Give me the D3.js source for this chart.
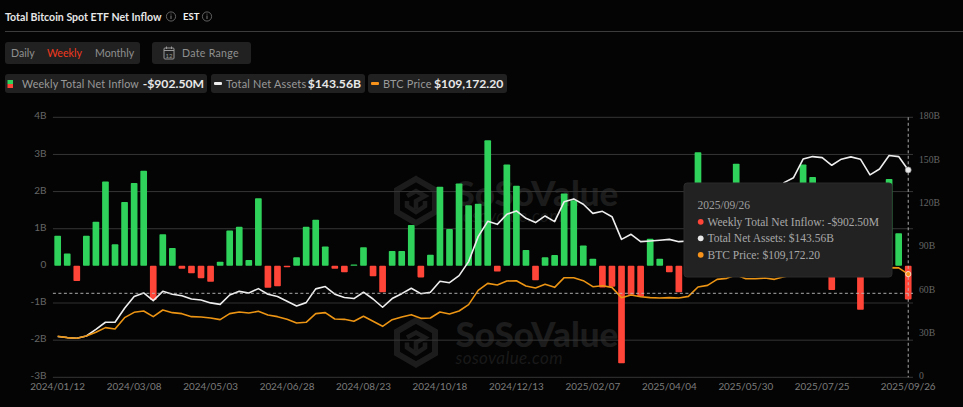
<!DOCTYPE html>
<html>
<head>
<meta charset="utf-8">
<script src="https://cdn.jsdelivr.net/npm/d3@7"></script>
<style>
  html, body { margin: 0; padding: 0; background: #040404; overflow: hidden; }
  text { font-family: Lato, "Noto Sans", sans-serif; }
</style>
</head>
<body>
<svg id="chart" width="963" height="407"></svg>
<script>
// weekly data. everything behind the tooltip is an estimate
const tickLabels = ["2024/01/12","2024/03/08","2024/05/03","2024/06/28","2024/08/23","2024/10/18",
  "2024/12/13","2025/02/07","2025/04/04","2025/05/30","2025/07/25","2025/09/26"]
const inflowTicks = [-3,-2,-1,0,1,2,3,4]
const assetTicks = [0,30,60,90,120,150,180]

// billions of usd
const inflow = [
  0.81,0.33,-0.41,0.81,1.19,2.27,0.58,1.72,2.23,2.56,
  -0.92,0.85,0.48,-0.08,-0.2,-0.33,-0.43,0.11,0.95,1.05,
  0.16,1.82,-0.59,-0.55,-0.04,0.23,1.05,1.24,0.52,-0.08,
  -0.17,0.04,0.5,-0.28,-0.71,0.4,0.4,1.1,-0.31,0.3,
  2.13,0.99,2.22,1.63,1.67,3.38,-0.15,2.73,2.16,0.43,
  -0.39,0.23,0.29,1.95,1.77,0.55,0.19,-0.58,-0.56,-2.62,
  -0.78,-0.83,0.73,0.19,-0.17,-0.71,0.02,3.06,1.81,0.92,
  0.61,2.75,0.13,-0.13,1.37,1.02,2.22,0.77,2.73,2.39,
  0.07,-0.65,0.25,0.55,-1.18,0.44,0.25,2.34,0.88,-0.9025]

// billions of usd
const netAssets = [
  28.2,27.5,27.0,28.6,33.2,38.1,38.1,47.8,55.9,58.4,
  53.1,59.5,57.5,56.5,54.2,53.5,51.5,50.5,57.0,59.5,
  58.4,61.4,57.5,55.9,52.6,49.4,51.7,61.2,62.8,57.5,
  55.2,54.5,58.9,54.2,48.5,54.5,57.9,61.6,57.9,58.9,
  66.5,65.5,70.4,80.1,97.4,108,105.9,112.9,115.2,110.1,
  107.1,111.7,107.8,121.6,123.5,119.8,113.5,114.9,111.2,95.5,
  99,93.9,94.4,94.9,95.5,93.9,94.4,107,109,115,
  120,123,120,121,124,123,134.8,138.2,151.1,152.8,
  152.1,146.8,151,152.6,151,140.1,144.2,153.5,152.8,143.56]

// usd
const btcPrice = [
  43345,41936,41231,43700,47574,52508,51098,63080,68718,70128,
  64137,71185,68366,67308,64137,63784,62727,60965,67308,69070,
  68013,69775,65900,64137,61318,57441,58146,67308,68366,61670,
  61318,59203,64489,59203,53917,60965,63784,66251,62375,62727,
  69070,66956,70128,76823,91976,99377,97615,101844,102196,96558,
  94443,98320,95148,105368,105368,102196,95853,96910,95148,84224,
  87043,85281,84224,83871,84224,83871,85633,95500,97262,103606,
  104663,108187,104310,104310,105015,103606,106425,108187,117000,118000,
  117600,113000,117000,117400,116000,108200,110000,116000,115700,109172.2]

const weekFormat = d3.utcFormat("%Y/%m/%d")
const weeks = d3.utcDay.range(Date.UTC(2024,0,12), Date.UTC(2025,8,27), 7).map(d => weekFormat(d))

const chartLeft = 52.9, chartRight = 913, chartTop = 117.3, chartBottom = 377.3

const svg = d3.select("#chart")

const x = d3.scaleBand().domain(weeks).range([chartLeft, chartRight]).paddingInner(0.3).paddingOuter(0.15)
const yInflow = d3.scaleLinear().domain([-3,4]).range([chartBottom, chartTop])
const yAssets = d3.scaleLinear().domain([0,180]).range([chartBottom, chartTop])
const yPrice = d3.scaleLinear().domain([0,275000]).range([chartBottom, chartTop])
const xMid = d => x(d) + x.bandwidth()/2

//-------------header
svg.append("text").attr("x",5).attr("y",20.5).attr("fill","#e6e6e6")
  .attr("font-size",10.6).attr("font-weight",700).text("Total Bitcoin Spot ETF Net Inflow")

function infoIcon(cx){
  svg.append("circle").attr("cx",cx).attr("cy",16.5).attr("r",4.6)
    .attr("fill","none").attr("stroke","#777").attr("stroke-width",0.8)
  svg.append("line").attr("x1",cx).attr("x2",cx).attr("y1",15.5).attr("y2",19)
    .attr("stroke","#888").attr("stroke-width",0.9)
  svg.append("circle").attr("cx",cx).attr("cy",14).attr("r",0.5).attr("fill","#888")
}
infoIcon(171)
svg.append("text").attr("x",183).attr("y",19.5).attr("fill","#f2f2f2")
  .attr("font-size",9.5).attr("font-weight",700).text("EST")
infoIcon(207)

svg.append("line").attr("x1",5).attr("x2",963).attr("y1",31.5).attr("y2",31.5).attr("stroke","#3c3c3c")

//-------------buttons
const chip = (x0,y0,w,h) => svg.append("rect").attr("x",x0).attr("y",y0).attr("width",w).attr("height",h)
  .attr("rx",3).attr("fill","#212121")
chip(5,42,135,22)
chip(152,42,99,22)

let buttons = [["Daily",11,"#8f8f8f"],["Weekly",47,"#f0391f"],["Monthly",95,"#8f8f8f"]]
for (let b of buttons){
  svg.append("text").attr("x",b[1]).attr("y",57).attr("fill",b[2]).attr("font-size",10.6).text(b[0])
}

// calendar icon
svg.append("rect").attr("x",164).attr("y",48).attr("width",10).attr("height",11).attr("rx",1)
  .attr("fill","none").attr("stroke","#999").attr("stroke-width",1)
svg.append("line").attr("x1",164).attr("x2",174).attr("y1",50.5).attr("y2",50.5).attr("stroke","#999")
for (let cx of [166.5,171.5]){
  svg.append("line").attr("x1",cx).attr("x2",cx).attr("y1",46.5).attr("y2",49).attr("stroke","#999")
}
svg.append("text").attr("x",169).attr("y",57.7).attr("text-anchor","middle").attr("fill","#999")
  .attr("font-size",6).text("12")
svg.append("text").attr("x",182).attr("y",57).attr("fill","#8f8f8f").attr("font-size",10.6)
  .attr("letter-spacing",0.3).text("Date Range")

//-------------legend
chip(5,74,202,19)
chip(211,74,154,19)
chip(368,74,139,19)

svg.append("rect").attr("x",7.5).attr("y",80).attr("width",5.5).attr("height",4).attr("fill","#2fd25a")
svg.append("rect").attr("x",7.5).attr("y",84).attr("width",5.5).attr("height",4).attr("fill","#ff4438")
svg.append("rect").attr("x",214).attr("y",82).attr("width",8).attr("height",3).attr("rx",1).attr("fill","#eeeeee")
svg.append("rect").attr("x",371).attr("y",82).attr("width",8).attr("height",3).attr("rx",1).attr("fill","#f7931a")

let legendItems = [
  ["Weekly Total Net Inflow",22,10.7,"-$902.50M",142.7],
  ["Total Net Assets",226,10.9,"$143.56B",307.7],
  ["BTC Price",383,10.9,"$109,172.20",434]
]
for (let item of legendItems){
  svg.append("text").attr("x",item[1]).attr("y",87.5).attr("fill","#9a9a9a").attr("font-size",item[2])
    .attr("letter-spacing",0.2).text(item[0])
  svg.append("text").attr("x",item[4]).attr("y",88).attr("fill","#e8e8e8").attr("font-size",12.2)
    .attr("font-weight",700).text(item[3])
}

//-------------watermark + grid
function watermark(cx,cy){
  const g = svg.append("g").attr("transform","translate("+cx+","+cy+")")
  g.append("path").attr("d","M0,-22 L19,-11 L19,11 L0,22 L-19,11 L-19,-11 Z")
    .attr("fill","none").attr("stroke","#1c1c1c").attr("stroke-width",6)
  g.append("path").attr("d","M-9,-5 L0,-10 L9,-5 L0,0 L0,8 M9,0 L9,5 L0,11 L-9,5 L-9,0")
    .attr("fill","none").attr("stroke","#1c1c1c").attr("stroke-width",4.5)
  g.append("text").attr("x",39.5).attr("y",4.5).attr("fill","#1c1c1c").attr("font-size",35)
    .attr("font-weight",900).text("SoSoValue")
  g.append("text").attr("x",39.5).attr("y",21).attr("fill","#191919").attr("font-size",17)
    .attr("font-style","italic").attr("letter-spacing",0.4).text("sosovalue.com")
}
watermark(416,201)
watermark(416,342.5)

svg.append("g").selectAll("line").data(inflowTicks).join("line")
  .attr("x1",chartLeft).attr("x2",chartRight)
  .attr("y1",d => yInflow(d)).attr("y2",d => yInflow(d))
  .attr("stroke",d => d==0 ? "none" : (d==-1 ? "#222" : "#363636")).attr("stroke-width",d => d==-1 ? 1.5 : 1)

//-------------bars
svg.append("g").selectAll("rect").data(weeks).join("rect")
  .attr("x",d => x(d))
  .attr("y",(d,i) => yInflow(Math.max(inflow[i],0)))
  .attr("width",x.bandwidth())
  .attr("height",(d,i) => Math.abs(yInflow(inflow[i]) - yInflow(0)))
  .attr("rx",0.8)
  .attr("fill",(d,i) => inflow[i] >= 0 ? "#2fd25a" : "#ff4438")

//-------------lines
const assetLine = d3.line().x((d,i) => xMid(weeks[i])).y(d => yAssets(d))
const priceLine = d3.line().x((d,i) => xMid(weeks[i])).y(d => yPrice(d))
svg.append("path").datum(netAssets).attr("d",assetLine).attr("fill","none")
  .attr("stroke","#eeeeee").attr("stroke-width",1.6).attr("stroke-linejoin","round")
svg.append("path").datum(btcPrice).attr("d",priceLine).attr("fill","none")
  .attr("stroke","#ec9413").attr("stroke-width",1.6).attr("stroke-linejoin","round")

//-------------axes
const leftAxis = d3.axisLeft(yInflow).tickValues(inflowTicks).tickSize(0).tickPadding(6.5)
  .tickFormat(d => d==0 ? "0" : d+"B")
const rightAxis = d3.axisRight(yAssets).tickValues(assetTicks).tickSize(0).tickPadding(6)
  .tickFormat(d => d==0 ? "0" : d+"B")
const bottomAxis = d3.axisBottom(x).tickValues(tickLabels).tickSize(0).tickPadding(5.5)

const styleAxis = (g,color,size,font) => {
  g.select(".domain").remove()
  g.selectAll("text").attr("fill",color).style("font-size",size+"px").style("font-family",font)
}
svg.append("g").attr("transform","translate("+chartLeft+",-1.6)").call(leftAxis)
  .call(styleAxis,"#666666",10,"Lato, sans-serif")
svg.append("g").attr("transform","translate("+chartRight+",-1.6)").call(rightAxis)
  .call(styleAxis,"#666666",9.7,"'Liberation Serif', serif")
svg.append("g").attr("transform","translate(0,"+chartBottom+")").call(bottomAxis)
  .call(styleAxis,"#7c7c7c",9.9,"Lato, sans-serif")

//-------------crosshair on the last week
const lastWeek = weeks[weeks.length-1]
const crossY = 293.3
svg.append("line").attr("x1",chartLeft).attr("x2",chartRight).attr("y1",crossY).attr("y2",crossY)
  .attr("stroke","#bdbdbd").attr("stroke-dasharray","3,2.5").attr("stroke-width",0.9)
svg.append("line").attr("x1",xMid(lastWeek)).attr("x2",xMid(lastWeek)).attr("y1",chartTop).attr("y2",chartBottom)
  .attr("stroke","#bdbdbd").attr("stroke-dasharray","3,2.5").attr("stroke-width",0.9)

svg.append("circle").attr("cx",xMid(lastWeek)).attr("cy",yAssets(netAssets[89])).attr("r",3)
  .attr("fill","#e8e8e8").attr("stroke","#888").attr("stroke-width",0.6)
svg.append("circle").attr("cx",xMid(lastWeek)).attr("cy",yPrice(btcPrice[89])).attr("r",2.6)
  .attr("fill","#f7931a").attr("stroke","#fff").attr("stroke-width",0.7)

//-------------tooltip
const tip = svg.append("g")
tip.append("rect").attr("x",684).attr("y",183).attr("width",208).attr("height",94).attr("rx",3)
  .attr("fill","#222222").attr("stroke","#2a2a2a")

tip.append("text").attr("x",697.5).attr("y",209).attr("fill","#9e9e9e")
  .style("font-family","'Liberation Serif', serif").attr("font-size",11.5).text(lastWeek)

let tipRows = [
  ["#ff4438","Weekly Total Net Inflow: -$902.50M"],
  ["#e8e8e8","Total Net Assets: $143.56B"],
  ["#f7931a","BTC Price: $109,172.20"]
]
tipRows.forEach((row,i) => {
  const rowY = 221.8 + i*16.5
  tip.append("circle").attr("cx",700.7).attr("cy",rowY).attr("r",2.9).attr("fill",row[0])
  tip.append("text").attr("x",707.5).attr("y",rowY+3.8).attr("fill","#a8a8a8")
    .style("font-family","'Liberation Serif', serif").attr("font-size",11.5).text(row[1])
})
</script>
</body>
</html>
